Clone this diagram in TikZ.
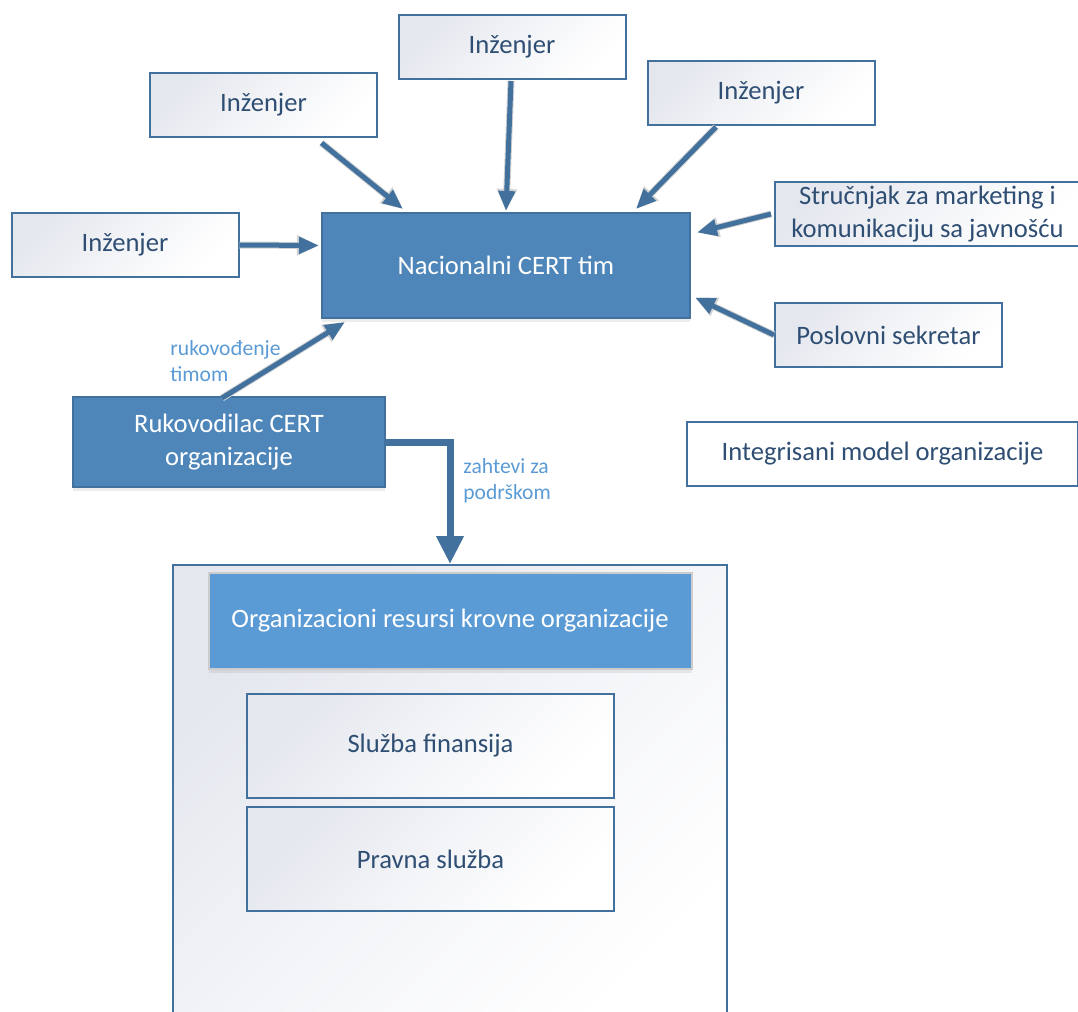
\documentclass[tikz,border=0pt]{standalone}
\usepackage{fontspec}
\setmainfont{Carlito}
\usepackage{tikz}
\usetikzlibrary{arrows.meta}
\usetikzlibrary{shadows}
\definecolor{certblue}{HTML}{4E86B9}
\definecolor{edgeblue}{HTML}{41719C}
\definecolor{orgblue}{HTML}{5B9BD5}
\definecolor{textblue}{HTML}{2F4E73}
\definecolor{paleshade}{HTML}{E4E7EE}

\begin{document}
\begin{tikzpicture}[x=0.5pt,y=-0.5pt,font=\fontsize{13.3}{16.5}\selectfont]
\useasboundingbox (0,0) rectangle (1078,1012);
\tikzstyle{pale}=[draw=edgeblue,line width=1pt,top color=paleshade,bottom color=white,middle color=white!55!paleshade,shading angle=45,text=textblue,inner sep=0pt,align=center]
\tikzstyle{solid}=[draw=edgeblue,line width=1pt,fill=certblue,text=white,inner sep=0pt,align=center,drop shadow={opacity=.15,shadow xshift=0pt,shadow yshift=-2pt}]
\tikzstyle{link}=[draw=edgeblue,line width=2.5pt,-{Triangle[length=10pt,width=8pt]},preaction={draw=gray!35,line width=3.5pt,-{Triangle[length=11pt,width=9.5pt]}}]
\tikzstyle{lbl}=[text=orgblue,font=\fontsize{10.8}{13}\selectfont,align=left,inner sep=0pt]
%% outer frame
\node[pale,minimum width=277pt,minimum height=235pt] (krov) at (450,800) {}; %%
\node[draw=gray!40,line width=1pt,fill=orgblue,text=white,inner sep=0pt,minimum width=241.5pt,minimum height=48pt,drop shadow={opacity=.15,shadow xshift=0pt,shadow yshift=-2pt}] (resursi) at (450,621) {Organizacioni resursi krovne organizacije}; %%
\node[pale,minimum width=183.5pt,minimum height=52pt] (finans) at (430.5,746) {Služba finansija}; %%
\node[pale,minimum width=183.5pt,minimum height=52pt] (pravna) at (430.5,859) {Pravna služba}; %%
%% team
\node[solid,minimum width=184pt,minimum height=52.5pt] (tim) at (506,265.5) {Nacionalni CERT tim}; %%
\node[solid,minimum width=156pt,minimum height=45pt] (ruk) at (229,442) {Rukovodilac CERT\\organizacije}; %%
\node[pale,minimum width=113.5pt,minimum height=32pt] (inz1) at (512,47) {Inženjer}; %%
\node[pale,minimum width=113.5pt,minimum height=32pt] (inz2) at (263.5,105) {Inženjer}; %%
\node[pale,minimum width=113.5pt,minimum height=32pt] (inz3) at (761,93) {Inženjer}; %%
\node[pale,minimum width=113.5pt,minimum height=32pt] (inz4) at (125,245) {Inženjer}; %%
\node[pale,minimum width=152.5pt,minimum height=32pt] (struc) at (927.5,214) {Stručnjak za marketing i\\komunikaciju sa javnošću}; %%
\node[pale,minimum width=113.5pt,minimum height=32pt] (sekr) at (888.5,335) {Poslovni sekretar}; %%
\node[draw=edgeblue,line width=.6pt,fill=white,text=textblue,inner sep=0pt,minimum width=195.5pt,minimum height=32pt] (model) at (882.5,454) {Integrisani model organizacije};
%\draw[step=50,color=gray] (0,0) grid (1078,1012);%%
\draw[link] ([xshift=29pt,yshift=-2.5pt]inz2.south)--([xshift=-51.5pt,yshift=1.5pt]tim.north); %%
\draw[link] ([xshift=-0.5pt,yshift=-0.5pt]inz1.south)--([yshift=.5pt]tim.north); %%
\draw[link] ([xshift=-22.5pt,yshift=-.5pt]inz3.south)--([xshift=65pt,yshift=1.5pt]tim.north); %%
\draw[link] ([xshift=-1.5pt]struc.west)--([xshift=3pt,yshift=16.5pt]tim.east); %%
\draw[link] (sekr.west)--([xshift=2pt,yshift=-16pt]tim.east); %%
\draw[link] (inz4.east)--([xshift=-1pt,yshift=10pt]tim.west); %%
\draw[link] ([xshift=-3.5pt,yshift=-1pt]ruk.north)--([xshift=-80.5pt,yshift=-1.5pt]tim.south); %%
\draw[draw=edgeblue,line width=3.5pt,-{Triangle[length=14pt,width=13pt]}] (ruk.east) -| (krov.north); %%
\node[lbl,anchor=west] (vodjenje) at (170,361) {rukovođenje\\timom}; %%
\node[lbl,anchor=west] (podrska) at (463,481) {zahtevi za\\podrškom};
\end{tikzpicture}
\end{document}
